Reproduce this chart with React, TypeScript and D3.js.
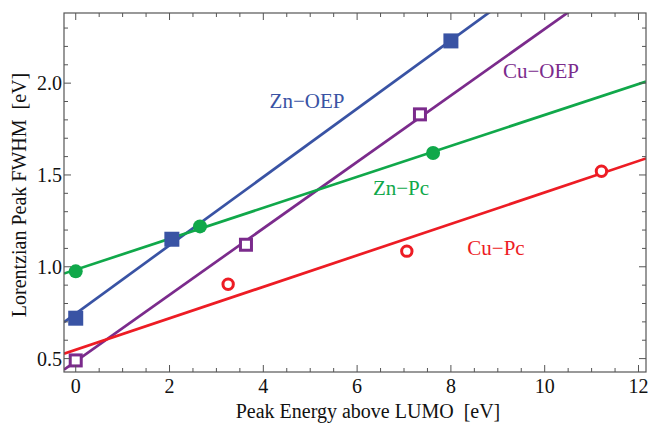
import React from 'react';
import * as d3 from 'd3';

// values
const xMajor = [0, 2, 4, 6, 8, 10, 12];
const yMajor = [0.5, 1.0, 1.5, 2.0];

const znOepX = [0, 2.05, 8.0];
const znOepY = [0.72, 1.15, 2.23];
const cuOepX = [0, 3.63, 7.34];
const cuOepY = [0.49, 1.12, 1.83];
const znPcX = [0, 2.65, 7.62];
const znPcY = [0.975, 1.22, 1.62];
const cuPcX = [3.25, 7.06, 11.21];
const cuPcY = [0.905, 1.085, 1.52];

// linear fits: [intercept, slope]
const znOepFit = [0.745, 0.186];
const cuOepFit = [0.485, 0.181];
const znPcFit = [0.984, 0.0843];
const cuPcFit = [0.548, 0.0857];

const W = 648;
const H = 426;
const margin = { top: 13, right: 2, bottom: 54, left: 64 };

const series = [
  { name: 'Zn\u2212OEP', xs: znOepX, ys: znOepY, fit: znOepFit, color: '#3953a4', marker: 'square', filled: true, label: [307, 101] },
  { name: 'Cu\u2212OEP', xs: cuOepX, ys: cuOepY, fit: cuOepFit, color: '#7b2b8c', marker: 'square', filled: false, label: [541, 71] },
  { name: 'Zn\u2212Pc', xs: znPcX, ys: znPcY, fit: znPcFit, color: '#10a84a', marker: 'circle', filled: true, label: [401, 188] },
  { name: 'Cu\u2212Pc', xs: cuPcX, ys: cuPcY, fit: cuPcFit, color: '#ed1c24', marker: 'circle', filled: false, label: [496, 248] },
];

export default function App() {
  const x = d3.scaleLinear().domain([-0.25, 12.16]).range([margin.left, W - margin.right]);
  const y = d3.scaleLinear().domain([0.427, 2.382]).range([H - margin.bottom, margin.top]);
  const [x0, x1] = x.range();
  const [y0, y1] = y.range();

  const xMinor = d3.range(0, 12.01, 0.5).filter(v => !xMajor.includes(v));
  const yMinor = d3.range(0.5, 2.39, 0.1).map(v => +v.toFixed(1)).filter(v => !yMajor.includes(v));

  const line = d3.line<number[]>().x(d => x(d[0])).y(d => y(d[1]));
  const font = '"Liberation Serif", "Times New Roman", serif';
  const frame = '#555';

  return (
    <div style={{ position: 'absolute', left: 0, top: 0 }}>
      <svg width={W} height={H} style={{ display: 'block', background: '#fff' }}>
        <defs>
          <clipPath id="plot">
            <rect x={x0} y={y1} width={x1 - x0} height={y0 - y1} />
          </clipPath>
        </defs>

        {/* fit lines */}
        <g clipPath="url(#plot)">
          {series.map(s => {
            const pts = x.domain().map(v => [v, s.fit[0] + s.fit[1] * v]);
            return <path key={s.name} d={line(pts) || ''} fill="none" stroke={s.color} strokeWidth={2.7} />;
          })}
        </g>

        {/* markers */}
        <g>
          {series.map(s =>
            s.xs.map((v, i) => {
              const cx = x(v);
              const cy = y(s.ys[i]);
              if (s.marker === 'square') {
                return s.filled ? (
                  <rect key={s.name + i} x={cx - 7.5} y={cy - 7.5} width={15} height={15} fill={s.color} />
                ) : (
                  <rect key={s.name + i} x={cx - 5.5} y={cy - 5.5} width={11} height={11} fill="#fff" stroke={s.color} strokeWidth={3} />
                );
              }
              return s.filled ? (
                <circle key={s.name + i} cx={cx} cy={cy} r={7} fill={s.color} />
              ) : (
                <circle key={s.name + i} cx={cx} cy={cy} r={5.2} fill="#fff" stroke={s.color} strokeWidth={3} />
              );
            })
          )}
        </g>

        {/* series labels */}
        {series.map(s => (
          <text key={s.name} x={s.label[0]} y={s.label[1]} fill={s.color} fontFamily={font} fontSize={21}
            textAnchor="middle" dominantBaseline="central">{s.name}</text>
        ))}

        {/* frame */}
        <rect x={x0} y={y1} width={x1 - x0} height={y0 - y1} fill="none" stroke={frame} strokeWidth={1.2} />

        {/* ticks */}
        <g stroke={frame} strokeWidth={1}>
          {xMajor.map(v => (
            <g key={'xM' + v}>
              <line x1={x(v)} x2={x(v)} y1={y0} y2={y0 - 7} />
              <line x1={x(v)} x2={x(v)} y1={y1} y2={y1 + 7} />
            </g>
          ))}
          {xMinor.map(v => (
            <g key={'xm' + v}>
              <line x1={x(v)} x2={x(v)} y1={y0} y2={y0 - 4} />
              <line x1={x(v)} x2={x(v)} y1={y1} y2={y1 + 4} />
            </g>
          ))}
          {yMajor.map(v => (
            <g key={'yM' + v}>
              <line x1={x0} x2={x0 + 7} y1={y(v)} y2={y(v)} />
              <line x1={x1} x2={x1 - 7} y1={y(v)} y2={y(v)} />
            </g>
          ))}
          {yMinor.map(v => (
            <g key={'ym' + v}>
              <line x1={x0} x2={x0 + 4} y1={y(v)} y2={y(v)} />
              <line x1={x1} x2={x1 - 4} y1={y(v)} y2={y(v)} />
            </g>
          ))}
        </g>

        {/* tick labels */}
        <g fontFamily={font} fontSize={20} fill="#111">
          {xMajor.map(v => (
            <text key={'xl' + v} x={x(v)} y={y0 + 21} textAnchor="middle">{v}</text>
          ))}
          {yMajor.map(v => (
            <text key={'yl' + v} x={x0 - 2} y={y(v)} textAnchor="end" dominantBaseline="central">{v.toFixed(1)}</text>
          ))}
        </g>

        {/* axis titles */}
        <text x={368} y={418} textAnchor="middle" fontFamily={font} fontSize={20} fill="#111" style={{ whiteSpace: 'pre' }}>
          {'Peak Energy above LUMO  [eV]'}
        </text>
        <text transform="translate(26, 195) rotate(-90)" textAnchor="middle" fontFamily={font} fontSize={20} fill="#111" style={{ whiteSpace: 'pre' }}>
          {'Lorentzian Peak FWHM  [eV]'}
        </text>
      </svg>
    </div>
  );
}
